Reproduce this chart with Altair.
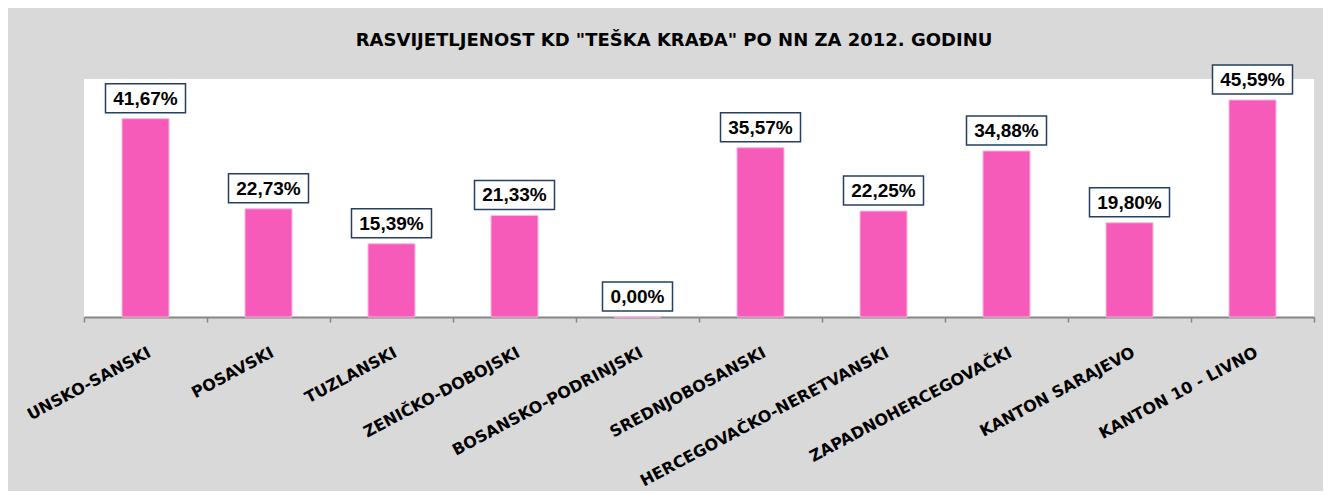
import altair as alt
import pandas as pd

categories = [
    "UNSKO-SANSKI", "POSAVSKI", "TUZLANSKI", "ZENIČKO-DOBOJSKI",
    "BOSANSKO-PODRINJSKI", "SREDNJOBOSANSKI", "HERCEGOVAČKO-NERETVANSKI",
    "ZAPADNOHERCEGOVAČKI", "KANTON SARAJEVO", "KANTON 10 - LIVNO",
]
values = [41.67, 22.73, 15.39, 21.33, 0.00, 35.57, 22.25, 34.88, 19.80, 45.59]
labels = [f"{v:.2f}%".replace(".", ",") for v in values]

title_text = 'RASVIJETLJENOST KD "TEŠKA KRAĐA" PO NN ZA 2012. GODINU'

df = pd.DataFrame({"kanton": categories, "val": values, "label": labels})
df["n"] = df["label"].str.len()

FONT = "Liberation Sans"
WIDE = "DejaVu Sans"

x_enc = alt.X(
    "kanton:N", sort=None, title=None,
    scale=alt.Scale(paddingInner=0, paddingOuter=0),
    axis=alt.Axis(
        labelAngle=-28, labelAlign="right", labelBaseline="top",
        labelFont=WIDE, labelFontSize=16, labelFontWeight="bold", labelColor="black",
        labelPadding=22, labelLimit=0, labelOverlap=False,
        tickBand="extent", tickSize=5, tickColor="#868686", tickWidth=1.5,
        domainColor="#868686", domainWidth=2, grid=False,
    ),
)
y_scale = alt.Scale(domain=[0, 50])

base = alt.Chart(df)

bars = base.mark_bar(width=47, color="#F65BB9", stroke="#FBB8DE", strokeWidth=1).encode(
    x=x_enc,
    y=alt.Y("val:Q", scale=y_scale, axis=None),
)

box_wide = base.transform_filter("datum.n >= 6").mark_bar(
    width=80, fill="white", stroke="#243F60", strokeWidth=1.5, yOffset=-35, y2Offset=-6
).encode(x=x_enc, y=alt.Y("val:Q", scale=y_scale, axis=None), y2="val:Q")

box_narrow = base.transform_filter("datum.n < 6").mark_bar(
    width=70, fill="white", stroke="#243F60", strokeWidth=1.5, yOffset=-35, y2Offset=-6
).encode(x=x_enc, y=alt.Y("val:Q", scale=y_scale, axis=None), y2="val:Q")

texts = base.mark_text(
    font=FONT, fontSize=19, fontWeight="bold", color="black",
    baseline="middle", align="center", dy=-20,
).encode(x=x_enc, y=alt.Y("val:Q", scale=y_scale, axis=None), text="label:N")

chart = alt.layer(bars, box_wide, box_narrow, texts).properties(
    width=1230, height=238,
    title=alt.TitleParams(
        title_text, font=WIDE, fontSize=18, fontWeight="bold", color="black",
        anchor="middle", baseline="alphabetic", offset=0, dx=-25,
    ),
    autosize=alt.AutoSizeParams(type="none"),
    padding={"left": 76, "top": 71, "right": 9, "bottom": 174},
).configure(background="#D9D9D9").configure_view(fill="white", stroke=None)

chart.save("out.html", embed_options={"renderer": "svg", "actions": False})
